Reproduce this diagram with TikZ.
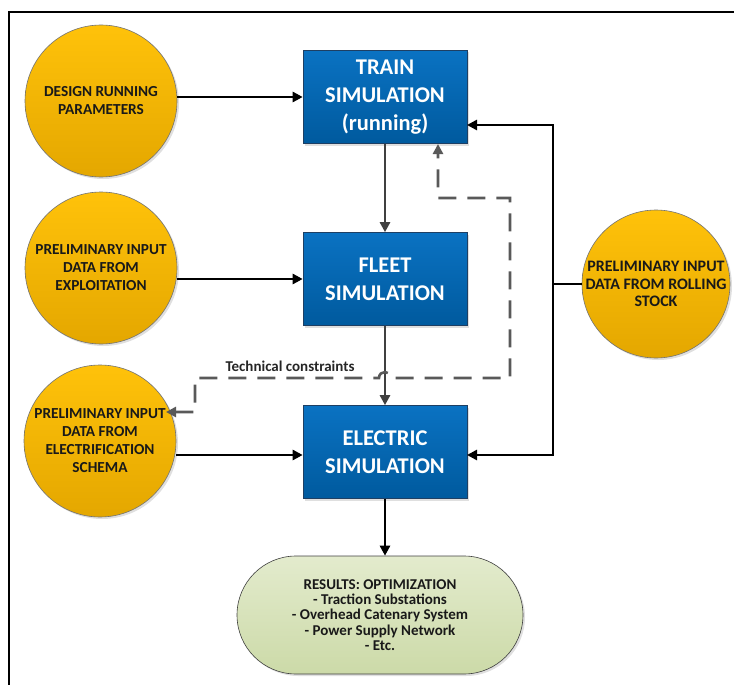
\documentclass[tikz,border=0pt]{standalone}
\usepackage{fontspec}
\setmainfont{Carlito}
\usetikzlibrary{arrows.meta,shadows}
\definecolor{goldtop}{HTML}{FFC20A}
\definecolor{goldbot}{HTML}{E4A700}
\definecolor{bluetop}{HTML}{0A72C2}
\definecolor{bluebot}{HTML}{005A9E}
\definecolor{blueedge}{HTML}{1E3F63}
\definecolor{greentop}{HTML}{E3EBCD}
\definecolor{greenbot}{HTML}{CCDAA8}
\definecolor{linkgray}{HTML}{404040}
\definecolor{dashgray}{HTML}{595959}
\begin{document}
\begin{tikzpicture}[x=1pt,y=-1pt,
  softshadow/.style={drop shadow={opacity=0.25,shadow xshift=2pt,shadow yshift=-2pt}},
  inputcircle/.style={circle,draw=black!55,line width=0.6pt,
    top color=goldtop,bottom color=goldbot,minimum size=152pt,inner sep=0pt,
    align=center,text=black!90,font=\bfseries\fontsize{15.3}{18}\selectfont,softshadow},
  simbox/.style={rectangle,draw=blueedge,line width=0.6pt,
    top color=bluetop,bottom color=bluebot,minimum width=164pt,minimum height=93pt,
    inner sep=0pt,align=center,text=white,font=\bfseries\fontsize{22.5}{28}\selectfont,softshadow},
  resultbox/.style={rectangle,rounded corners=59pt,draw=black!75,line width=0.6pt,
    top color=greentop,bottom color=greenbot,minimum width=286pt,minimum height=118pt,
    inner sep=0pt,align=center,text=black!90,font=\bfseries\fontsize{15}{15.4}\selectfont,softshadow},
  blackarrow/.style={draw=black,line width=2.6pt,-{Triangle[length=10pt,width=10pt]}},
  grayarrow/.style={draw=linkgray,line width=2.6pt,-{Triangle[length=10pt,width=10pt]}},
  blackline/.style={draw=black,line width=2.6pt},
  dashlink/.style={draw=dashgray,line width=2.6pt,dash pattern=on 18pt off 11pt,
    {Triangle[length=10pt,width=10pt]}-{Triangle[length=10pt,width=10pt]}},
  framecut/.style={draw=black,line width=2pt}
]
\useasboundingbox (0,0) rectangle (734,685);

% open frame: top and left edges
\coordinate (frametr) at (736,12);
\coordinate (frametl) at (9,12);
\coordinate (framebl) at (9,687);
\draw[framecut] (frametr) -- (frametl) -- (framebl);

% input circles
\node[inputcircle] (design) at (101,101) {DESIGN RUNNING\\PARAMETERS};
\node[inputcircle] (exploit) at (101,268) {PRELIMINARY INPUT\\DATA FROM\\EXPLOITATION};
\node[inputcircle] (electrif) at (100,441) {PRELIMINARY INPUT\\DATA FROM\\ELECTRIFICATION\\SCHEMA};
\node[inputcircle,minimum size=148pt,font=\bfseries\fontsize{16}{17.5}\selectfont] (rolling) at (656,284) {PRELIMINARY INPUT\\DATA FROM ROLLING\\STOCK};

% simulation blocks
\node[simbox] (train) at (385,97) {TRAIN\\SIMULATION\\(running)};
\node[simbox] (fleet) at (385,279) {FLEET\\SIMULATION};
\node[simbox] (electric) at (385,452) {ELECTRIC\\SIMULATION};

% results
\node[resultbox] (results) at (380,615) {RESULTS: OPTIMIZATION\\- Traction Substations\\- Overhead Catenary System\\- Power Supply Network\\- Etc.};

% inputs into the simulations
\draw[blackarrow] (design.east |- train.west) -- (train.west);
\draw[blackarrow] (exploit.east |- fleet.west) -- (fleet.west);
\coordinate (elin) at (100,455);
\draw[blackarrow] (electrif.east |- elin) -- (electric.west |- elin);

% simulation chain
\draw[grayarrow] (train.south) -- (fleet.north);
\draw[grayarrow] (fleet.south) -- (electric.north);
\draw[blackarrow] (electric.south) -- (electric.south |- results.north);

% rolling stock feeds train and electric simulations
\coordinate (rsjoin) at (553,284);
\coordinate (trainin) at (467,125);
\coordinate (elecin) at (467,455);
\draw[blackline] (rolling.west) -- (rsjoin);
\draw[blackarrow] (rsjoin) -- (rsjoin |- trainin) -- (trainin);
\draw[blackarrow] (rsjoin) -- (rsjoin |- elecin) -- (elecin);

% technical constraints feedback loop
\coordinate (tcend) at (166,412);
\coordinate (tcc1) at (195,412);
\coordinate (tcc2) at (195,378);
\coordinate (hopa) at (379,378);
\coordinate (hopb) at (391,378);
\coordinate (tcc3) at (510,378);
\coordinate (tcc4) at (510,198);
\coordinate (tcc5) at (438,198);
\coordinate (tcstart) at (438,144);
\draw[dashlink] (tcend) -- (tcc1) -- (tcc2) -- (hopa)
  .. controls (379,370) and (391,370) .. (hopb)
  -- (tcc3) -- (tcc4) -- (tcc5) -- (tcstart);
\node[font=\bfseries\fontsize{15}{17}\selectfont,text=black!85] (tclabel) at (290,366) {Technical constraints};
\end{tikzpicture}
\end{document}
